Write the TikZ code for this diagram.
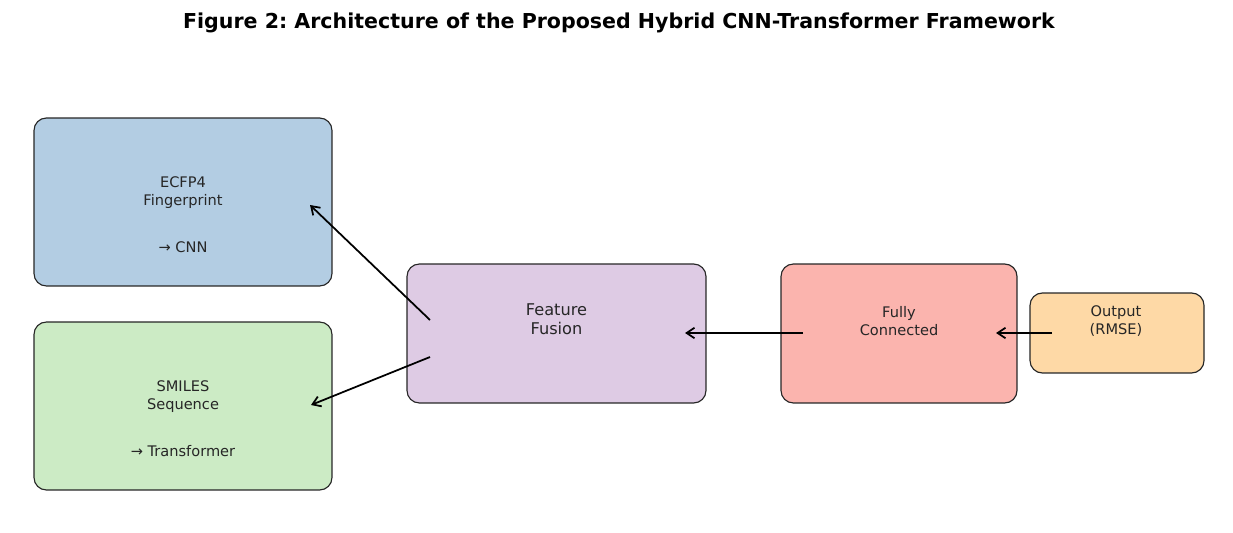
\documentclass[tikz,border=0pt]{standalone}
\usepackage{fontspec}
\setmainfont{DejaVu Sans}
\usetikzlibrary{arrows.meta}
\definecolor{ecfpblue}{HTML}{B3CDE3}
\definecolor{smilesgreen}{HTML}{CCEBC5}
\definecolor{fusionpurple}{HTML}{DECBE4}
\definecolor{fcred}{HTML}{FBB4AE}
\definecolor{outorange}{HTML}{FED9A6}
\frenchspacing
\tikzset{
  box/.style={draw=black!85, line width=0.65pt, rounded corners=7pt, inner sep=0pt},
  txt/.style={font=\fontsize{8.3}{9.8}\selectfont, align=center, text=black!85},
  arr/.style={-{Straight Barb[length=4.5pt,width=6pt]}, line width=1pt},
}
\begin{document}
\begin{tikzpicture}[x=0.02cm, y=-0.02cm]
        \useasboundingbox (0,0) rectangle (1233,533);
        % Draw the title
        \node[font=\fontsize{11.7}{13}\selectfont\bfseries] (title) at (619,23)
          {Figure 2: Architecture of the Proposed Hybrid CNN-Transformer Framework};
        % Draw the boxes
        \node[box, fill=ecfpblue, minimum width=5.96cm, minimum height=3.36cm] (ecfp) at (183,202) {};
        \node[box, fill=smilesgreen, minimum width=5.96cm, minimum height=3.36cm] (smiles) at (183,406) {};
        \node[box, fill=fusionpurple, minimum width=5.98cm, minimum height=2.78cm] (fusion) at (556.5,333.5) {};
        \node[box, fill=fcred, minimum width=4.72cm, minimum height=2.78cm] (fc) at (899,333.5) {};
        \node[box, fill=outorange, minimum width=3.48cm, minimum height=1.6cm] (out) at (1117,333) {};
        % Label the boxes
        \node[txt] (ecfp-name) at (183,192.5) {ECFP4\\Fingerprint};
        \node[txt] (ecfp-net) at (183,247) {→ CNN};
        \node[txt] (smiles-name) at (183,396.5) {SMILES\\Sequence};
        \node[txt] (smiles-net) at (183,451) {→ Transformer};
        \node[txt, font=\fontsize{9.2}{10.8}\selectfont] (fusion-name) at (556.5,319) {Feature\\Fusion};
        \node[txt] (fc-name) at (899,321) {Fully\\Connected};
        \node[txt] (out-name) at (1116,321) {Output\\(RMSE)};
        % Arrow end points
        \coordinate (fusion-a) at (430,320);
        \coordinate (fusion-b) at (430,357);
        \coordinate (ecfp-in) at (310,205);
        \coordinate (smiles-in) at (311,405);
        \coordinate (fc-a) at (803,333);
        \coordinate (fusion-in) at (685,333);
        \coordinate (out-a) at (1052,333);
        \coordinate (fc-in) at (996,333);
        % Draw the arrows
        \draw[arr] (fusion-a) -- (ecfp-in);
        \draw[arr] (fusion-b) -- (smiles-in);
        \draw[arr] (fc-a) -- (fusion-in);
        \draw[arr] (out-a) -- (fc-in);
\end{tikzpicture}
\end{document}
